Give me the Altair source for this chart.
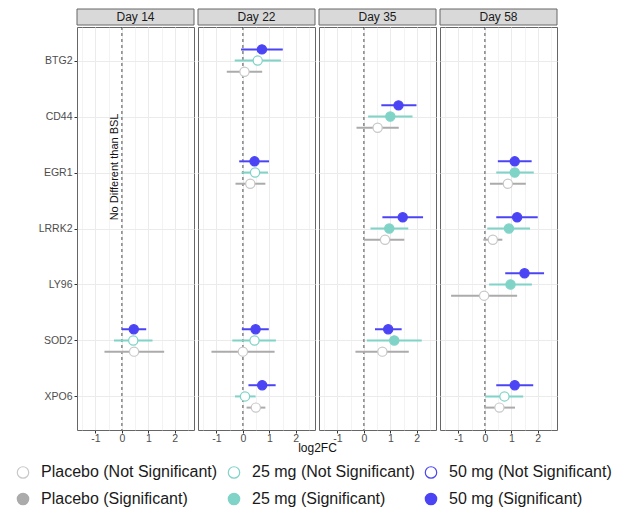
import json
import altair as alt
import pandas as pd

# ---------------- data ----------------
genes = ["BTG2", "CD44", "EGR1", "LRRK2", "LY96", "SOD2", "XPO6"]
days = ["Day 14", "Day 22", "Day 35", "Day 58"]
doses = ["Placebo", "25 mg", "50 mg"]

row_day = (["Day 14"] * 3 + ["Day 22"] * 12 + ["Day 35"] * 9 + ["Day 58"] * 12)
row_gene = (["SOD2"] * 3
            + ["BTG2"] * 3 + ["EGR1"] * 3 + ["SOD2"] * 3 + ["XPO6"] * 3
            + ["CD44"] * 3 + ["LRRK2"] * 3 + ["SOD2"] * 3
            + ["EGR1"] * 3 + ["LRRK2"] * 3 + ["LY96"] * 3 + ["XPO6"] * 3)
row_dose = ["50 mg", "25 mg", "Placebo"] * 12
estimate = [0.45, 0.43, 0.46,
            0.72, 0.56, 0.06, 0.44, 0.46, 0.28, 0.48, 0.44, 0.00, 0.73, 0.08, 0.49,
            1.31, 1.00, 0.52, 1.47, 0.96, 0.80, 0.92, 1.15, 0.70,
            1.13, 1.13, 0.87, 1.22, 0.91, 0.30, 1.50, 0.97, -0.03, 1.13, 0.74, 0.55]
ci_low = [0.00, -0.30, -0.66,
          -0.07, -0.31, -0.61, -0.14, -0.05, -0.28, -0.04, -0.40, -1.19, 0.21, -0.30, 0.14,
          0.66, 0.16, -0.28, 0.70, 0.25, 0.00, 0.42, 0.11, -0.32,
          0.49, 0.43, 0.19, 0.43, 0.09, -0.06, 0.77, 0.16, -1.28, 0.43, 0.01, -0.03]
ci_high = [0.92, 1.16, 1.60,
           1.51, 1.44, 0.73, 0.99, 0.95, 0.85, 0.98, 1.25, 1.20, 1.24, 0.48, 0.85,
           1.99, 1.84, 1.32, 2.24, 1.68, 1.53, 1.43, 2.19, 1.70,
           1.77, 1.85, 1.55, 2.00, 1.71, 0.66, 2.24, 1.78, 1.22, 1.83, 1.45, 1.14]
significant = [True, False, False,
               True, False, False, True, False, False, True, False, False, True, False, False,
               True, True, False, True, True, False, True, True, False,
               True, True, False, True, True, False, True, True, False, True, False, False]

# legend entries (listed column by column: 2 rows x 3 columns)
legend_keys = ["Placebo (Not Significant)", "Placebo (Significant)",
               "25 mg (Not Significant)", "25 mg (Significant)",
               "50 mg (Not Significant)", "50 mg (Significant)"]
fill_colors = ["#FFFFFF", "#ABABAB", "#FFFFFF", "#7FD3C7", "#FFFFFF", "#4B44F5"]
stroke_colors = ["#C8C8C8", "#ABABAB", "#7FD3C7", "#7FD3C7", "#4B44F5", "#4B44F5"]
line_colors = ["#ABABAB", "#7FD3C7", "#4B44F5"]
dodge = {"50 mg": -0.2, "25 mg": 0.0, "Placebo": 0.2}

annotation_text = ["No Different than BSL"]
annotation_x = [0.0]
annotation_y = [1.9]

df = pd.DataFrame({
    "day": row_day, "gene": row_gene, "dose": row_dose,
    "est": estimate, "lo": ci_low, "hi": ci_high, "sig": significant,
})
df["ypos"] = [genes.index(g) + dodge[d] for g, d in zip(df["gene"], df["dose"])]
df["key"] = [d + (" (Significant)" if s else " (Not Significant)") for d, s in zip(df["dose"], df["sig"])]

# ---------------- styling ----------------
FONT = "Liberation Sans"
PW, PH, SH = 117, 403, 16
SPACING = 4
BORDER = "#666666"
xs = alt.Scale(domain=[-1.7, 2.73], nice=False, zero=False)
ys = alt.Scale(domain=[-0.6, 6.6], nice=False, zero=False, reverse=True)
x_vals = [-1.5, -1, -0.5, 0, 0.5, 1, 1.5, 2, 2.5]
minor_test = "datum.value % 1 != 0"


def x_axis(title=None):
    kw = dict(
        values=x_vals,
        labelExpr="datum.value % 1 == 0 ? toString(datum.value) : ''",
        tickOpacity={"condition": {"test": minor_test, "value": 0}, "value": 1},
        gridWidth={"condition": {"test": minor_test, "value": 0.6}, "value": 1},
        gridColor="#EBEBEB", grid=True, domain=False,
        tickSize=3, tickColor="#333333", labelColor="#4D4D4D", labelFontSize=10.5,
        labelPadding=0, labelFont=FONT,
    )
    if title:
        kw.update(title=title, titleX=PW + SPACING / 2, titleFontSize=12, titleFontWeight="normal",
                  titleColor="#111111", titleFont=FONT, titlePadding=-1)
    else:
        kw.update(title=None)
    return alt.Axis(**kw)


def y_axis(show_labels):
    kw = dict(values=list(range(len(genes))), grid=True, gridColor="#EBEBEB", domain=False,
              title=None)
    if show_labels:
        kw.update(labelExpr=json.dumps(genes) + "[datum.value]", tickSize=3, tickColor="#333333",
                  labelColor="#4D4D4D", labelFontSize=10.5, labelPadding=2, labelFont=FONT)
    else:
        kw.update(labels=False, ticks=False)
    return alt.Axis(**kw)


leg = alt.Legend(
    title=None, orient="none", legendX=-62, legendY=455, columns=3,
    labelFontSize=16, labelFont=FONT, labelColor="#1A1A1A", labelLimit=400,
    symbolSize=130, symbolStrokeWidth=1.2, symbolType="circle", symbolOpacity=1,
    labelOffset=10, columnPadding=7, rowPadding=9,
)


def panel(day, idx):
    xa = x_axis("log2FC" if idx == 1 else None)
    ya = y_axis(idx == 0)
    base = alt.Chart(df).transform_filter(alt.datum.day == day)

    zero = alt.Chart(pd.DataFrame({"zero": [0.0]})).mark_rule(
        strokeDash=[3, 3], color="#222222", strokeWidth=0.8
    ).encode(x=alt.X("zero:Q", scale=xs, axis=xa))

    bars = base.mark_rule(strokeWidth=2).encode(
        x=alt.X("lo:Q", scale=xs, axis=xa),
        x2="hi:Q",
        y=alt.Y("ypos:Q", scale=ys, axis=ya),
        color=alt.Color("dose:N", scale=alt.Scale(domain=doses, range=line_colors), legend=None),
    )
    pts = base.mark_circle(size=85, opacity=1, strokeWidth=1.2).encode(
        x=alt.X("est:Q", scale=xs, axis=xa),
        y=alt.Y("ypos:Q", scale=ys, axis=ya),
        fill=alt.Fill("key:N", scale=alt.Scale(domain=legend_keys, range=fill_colors), legend=leg),
        stroke=alt.Stroke("key:N", scale=alt.Scale(domain=legend_keys, range=stroke_colors), legend=leg),
    )
    layers = [zero, bars, pts]
    if idx == 0:
        ann = alt.Chart(pd.DataFrame({"x": annotation_x, "y": annotation_y, "t": annotation_text})).mark_text(
            angle=270, fontSize=11, font=FONT, color="#111111", dy=-6.5, baseline="middle", align="center"
        ).encode(x=alt.X("x:Q", scale=xs, axis=xa), y=alt.Y("y:Q", scale=ys, axis=ya), text="t:N")
        layers.append(ann)
    return alt.layer(*layers).properties(width=PW, height=PH)


# strip row: one band per day, aligned with the panels below
sx = alt.X("day:N", axis=None, sort=days,
           scale=alt.Scale(domain=days, paddingInner=SPACING / (PW + SPACING), paddingOuter=0))
strip_df = pd.DataFrame({"day": days})
strip_row = alt.layer(
    alt.Chart(strip_df).mark_rect(fill="#D9D9D9", stroke=BORDER, strokeWidth=1).encode(x=sx),
    alt.Chart(strip_df).mark_text(fontSize=12, font=FONT, color="#1A1A1A").encode(x=sx, text="day:N"),
).properties(width=4 * PW + 3 * SPACING, height=SH, view=alt.ViewBackground(stroke="transparent"))

panels_row = alt.hconcat(*[panel(d, i) for i, d in enumerate(days)],
                         spacing=SPACING, bounds="flush").resolve_scale(x="independent", y="independent")

chart = alt.vconcat(strip_row, panels_row, spacing=0).resolve_scale(
    x="independent", y="independent", fill="shared", stroke="shared", color="shared"
).properties(
    padding={"left": 7, "top": 0, "right": 5, "bottom": 0}
).configure_view(
    stroke=BORDER, strokeWidth=1
)

chart.save("out.html", embed_options={"renderer": "svg", "actions": False})
